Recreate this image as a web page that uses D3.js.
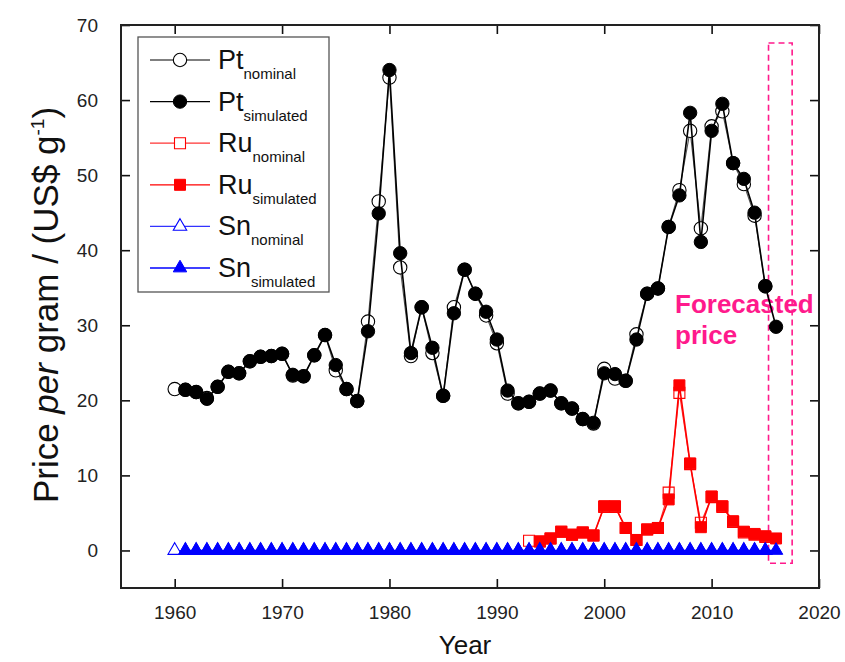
<!DOCTYPE html>
<html>
<head>
<meta charset="utf-8">
<style>
    body { margin: 0; background: #fff; }
    svg { font-family: "Liberation Sans", Arial, sans-serif; }
    .axis path { display: none; }
    .axis line { stroke: #111; stroke-width: 1.6; }
    .axis text { font-size: 19px; fill: #222; }
</style>
</head>
<body>
<script src="https://d3js.org/d3.v7.min.js"></script>
<script>

    // ---- data ----
    var ptNomYears = d3.range(1960, 2016);
    var ptNomValues = [21.5, 21.4, 21.1, 20.3, 21.8, 23.8, 23.6, 25.2, 25.8, 25.9,
        26.2, 23.3, 23.2, 26.0, 28.7, 24.0, 21.5, 19.9, 30.5, 46.5,
        63.0, 37.7, 25.9, 32.4, 26.3, 20.6, 32.4, 37.4, 34.2, 31.3,
        27.6, 20.9, 19.6, 19.8, 20.9, 21.3, 19.6, 18.9, 17.5, 16.9,
        24.2, 22.9, 22.6, 28.8, 34.2, 34.9, 43.1, 48.0, 55.9, 42.9,
        56.5, 58.5, 51.6, 48.8, 44.6, 35.2];

    var ptSimYears = d3.range(1961, 2017);
    var ptSimValues = [21.4, 21.1, 20.2, 21.8, 23.8, 23.6, 25.2, 25.8, 25.9, 26.2,
        23.4, 23.2, 26.0, 28.7, 24.7, 21.5, 19.9, 29.2, 44.9, 64.0,
        39.6, 26.3, 32.4, 27.0, 20.6, 31.6, 37.4, 34.2, 31.8, 28.1,
        21.3, 19.6, 19.8, 20.9, 21.3, 19.6, 18.9, 17.5, 17.0, 23.6,
        23.5, 22.6, 28.1, 34.2, 34.9, 43.1, 47.3, 58.3, 41.1, 55.9,
        59.5, 51.6, 49.5, 45.0, 35.2, 29.8];

    var ruNomYears = d3.range(1993, 2016);
    var ruNomValues = [1.3, 1.2, 1.6, 2.5, 2.1, 2.4, 2.0, 5.8, 5.8, 3.0,
        1.4, 2.8, 3.0, 7.7, 21.0, 11.5, 3.7, 7.1, 5.8, 3.8,
        2.4, 2.1, 1.8];

    var ruSimYears = d3.range(1994, 2017);
    var ruSimValues = [1.2, 1.6, 2.5, 2.1, 2.4, 2.0, 5.9, 5.9, 3.0, 1.4,
        2.8, 3.0, 6.8, 22.0, 11.6, 3.1, 7.2, 5.9, 3.9, 2.5,
        2.2, 1.9, 1.6];

    var snNomYears = d3.range(1960, 2016);
    var snNomValues = [0, 0, 0, 0, 0, 0, 0, 0, 0, 0, 0, 0, 0, 0, 0, 0, 0, 0, 0, 0,
        0, 0, 0, 0, 0, 0, 0, 0, 0, 0, 0, 0, 0, 0, 0, 0, 0, 0, 0, 0,
        0, 0, 0, 0, 0, 0, 0, 0, 0, 0, 0, 0, 0, 0, 0, 0];

    var snSimYears = d3.range(1961, 2017);
    var snSimValues = [0, 0, 0, 0, 0, 0, 0, 0, 0, 0, 0, 0, 0, 0, 0, 0, 0, 0, 0, 0,
        0, 0, 0, 0, 0, 0, 0, 0, 0, 0, 0, 0, 0, 0, 0, 0, 0, 0, 0, 0,
        0, 0, 0, 0, 0, 0, 0, 0, 0, 0, 0, 0, 0, 0, 0, 0];

    var xTicks = [1960, 1970, 1980, 1990, 2000, 2010, 2020];
    var yTicks = [0, 10, 20, 30, 40, 50, 60, 70];
    var forecastYears = [2015.3, 2017.5];
    var forecastRange = [-1.7, 67.6];

    var pink = "#ff1a8c";

    var series = [
        { name: "Pt", sub: "nominal", years: ptNomYears, values: ptNomValues, color: "#000", line: "#555", shape: "circle", filled: false },
        { name: "Pt", sub: "simulated", years: ptSimYears, values: ptSimValues, color: "#000", line: "#000", shape: "circle", filled: true },
        { name: "Ru", sub: "nominal", years: ruNomYears, values: ruNomValues, color: "#ff0000", line: "#ff3333", shape: "square", filled: false },
        { name: "Ru", sub: "simulated", years: ruSimYears, values: ruSimValues, color: "#ff0000", line: "#ff0000", shape: "square", filled: true },
        { name: "Sn", sub: "nominal", years: snNomYears, values: snNomValues, color: "#0000ff", line: "#3333ff", shape: "triangle", filled: false },
        { name: "Sn", sub: "simulated", years: snSimYears, values: snSimValues, color: "#0000ff", line: "#0000ff", shape: "triangle", filled: true }
    ];

    // ---- layout ----
    var W = 845, H = 662;
    var pLeft = 121, pRight = 819, pTop = 25, pBottom = 588;

    var svg = d3.select("body").append("svg")
        .attr("width", W)
        .attr("height", H);

    var x = d3.scaleLinear().domain([1955, 2020]).range([pLeft, pRight]);
    var y = d3.scaleLinear().domain([-5, 70]).range([pBottom, pTop]);

    // axes, ticks pointing inward on all four sides
    svg.append("g").attr("class", "axis")
        .attr("transform", "translate(0," + pBottom + ")")
        .call(d3.axisBottom(x).tickValues(xTicks).tickFormat(d3.format("d")).tickSizeInner(-9).tickPadding(18));
    svg.append("g").attr("class", "axis")
        .attr("transform", "translate(0," + pTop + ")")
        .call(d3.axisTop(x).tickValues(xTicks).tickFormat("").tickSizeInner(-9));
    svg.append("g").attr("class", "axis")
        .attr("transform", "translate(" + pLeft + ",0)")
        .call(d3.axisLeft(y).tickValues(yTicks).tickSizeInner(-9).tickPadding(23));
    svg.append("g").attr("class", "axis")
        .attr("transform", "translate(" + pRight + ",0)")
        .call(d3.axisRight(y).tickValues(yTicks).tickFormat("").tickSizeInner(-9));

    svg.append("rect")
        .attr("x", pLeft).attr("y", pTop)
        .attr("width", pRight - pLeft).attr("height", pBottom - pTop)
        .attr("fill", "none").attr("stroke", "#222").attr("stroke-width", 2);

    // forecast box
    svg.append("rect")
        .attr("x", x(forecastYears[0]))
        .attr("y", y(forecastRange[1]))
        .attr("width", x(forecastYears[1]) - x(forecastYears[0]))
        .attr("height", y(forecastRange[0]) - y(forecastRange[1]))
        .attr("fill", "none")
        .attr("stroke", pink)
        .attr("stroke-width", 1.6)
        .attr("stroke-dasharray", "6,4");

    var fc = svg.append("text")
        .attr("x", 675).attr("y", 313)
        .attr("fill", pink)
        .style("font-size", "26px")
        .style("font-weight", "bold");
    fc.append("tspan").attr("x", 675).text("Forecasted");
    fc.append("tspan").attr("x", 675).attr("dy", 31).text("price");

    // ---- markers ----
    var sym = {
        circle: d3.symbol().type(d3.symbolCircle).size(140),
        square: d3.symbol().type(d3.symbolSquare).size(121),
        triangle: d3.symbol().type(d3.symbolTriangle).size(78)
    };

    function drawMarkers(g, s, pts) {
        g.selectAll("path.m")
            .data(pts)
            .enter().append("path")
            .attr("class", "m")
            .attr("d", sym[s.shape])
            .attr("transform", function(d) { return "translate(" + d[0] + "," + d[1] + ")"; })
            .attr("fill", s.filled ? s.color : "#fff")
            .attr("stroke", s.color)
            .attr("stroke-width", s.filled ? 1 : 1.1);
    }

    var line = d3.line();

    series.forEach(function(s) {
        var pts = s.years.map(function(yr, i) { return [x(yr), y(s.values[i])]; });
        var g = svg.append("g");
        g.append("path")
            .attr("d", line(pts))
            .attr("fill", "none")
            .attr("stroke", s.line)
            .attr("stroke-width", s.filled ? 1.6 : 1.1);
        drawMarkers(g, s, pts);
    });

    // ---- legend ----
    var lg = svg.append("g");
    lg.append("rect")
        .attr("x", 138).attr("y", 37)
        .attr("width", 191).attr("height", 255)
        .attr("fill", "#fff")
        .attr("stroke", "#555")
        .attr("stroke-width", 1.3);

    series.forEach(function(s, i) {
        var cy = 60 + i * 41.6;
        var row = lg.append("g");
        row.append("line")
            .attr("x1", 150).attr("x2", 210)
            .attr("y1", cy).attr("y2", cy)
            .attr("stroke", s.line)
            .attr("stroke-width", 1.3);
        drawMarkers(row, s, [[180, cy]]);
        var t = row.append("text")
            .attr("x", 218).attr("y", cy + 9)
            .attr("fill", "#111")
            .style("font-size", "27px");
        t.append("tspan").text(s.name);
        t.append("tspan").attr("dy", 10).style("font-size", "15px").text(s.sub);
    });

    // ---- axis titles ----
    svg.append("text")
        .attr("x", 465).attr("y", 654)
        .attr("text-anchor", "middle")
        .attr("fill", "#111")
        .style("font-size", "26px")
        .text("Year");

    var yl = svg.append("text")
        .attr("transform", "translate(58,305) rotate(-90)")
        .attr("text-anchor", "middle")
        .attr("fill", "#111")
        .style("font-size", "35px");
    yl.append("tspan").text("Price ");
    yl.append("tspan").style("font-style", "italic").text("per");
    yl.append("tspan").text(" gram / (US$ g");
    yl.append("tspan").attr("dy", -14).style("font-size", "19px").text("-1");
    yl.append("tspan").attr("dy", 14).text(")");

</script>
</body>
</html>
